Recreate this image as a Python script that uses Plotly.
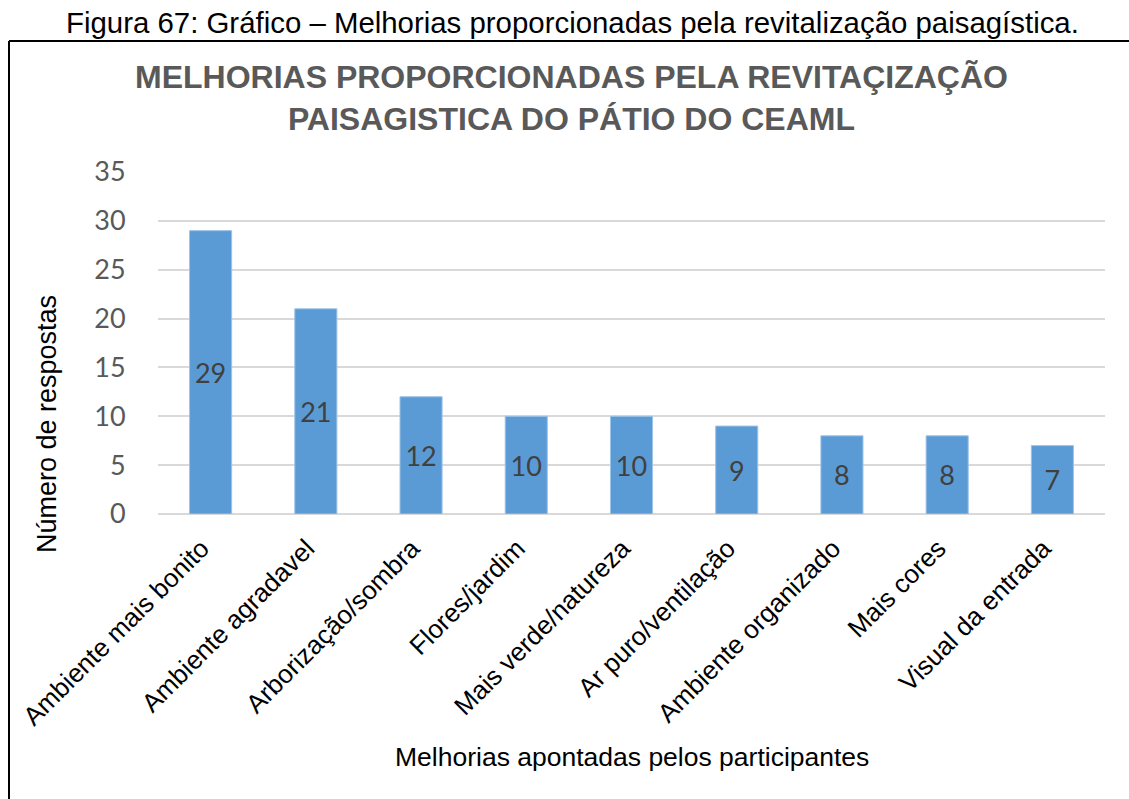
import plotly.graph_objects as go

categories = [
    "Ambiente mais bonito", "Ambiente agradavel", "Arborização/sombra",
    "Flores/jardim", "Mais verde/natureza", "Ar puro/ventilação",
    "Ambiente organizado", "Mais cores", "Visual da entrada",
]
respostas = [29, 21, 12, 10, 10, 9, 8, 8, 7]
y_ticks = [0, 5, 10, 15, 20, 25, 30, 35]

caption = "Figura 67: Gráfico – Melhorias proporcionadas pela revitalização paisagística."
chart_title = "MELHORIAS PROPORCIONADAS PELA REVITAÇIZAÇÃO<br>PAISAGISTICA DO PÁTIO DO CEAML"
x_title = "Melhorias apontadas pelos participantes"
y_title = "Número de respostas"

W, H = 1129, 799
L, R, T, B = 158, 24, 172, 285
pw, ph = W - L - R, H - T - B


def px_x(p):
    return (p - L) / pw


def px_y(p):
    return (H - B - p) / ph


fig = go.Figure(go.Bar(
    x=categories, y=respostas,
    marker=dict(color="#5b9bd5", line=dict(color="#9dc3e6", width=1)),
    text=[str(v) for v in respostas],
    textposition="inside", insidetextanchor="middle",
    textfont=dict(family="Lato", size=27, color="#404040"),
    textangle=0,
    width=0.4,
))

fig.update_layout(
    width=W, height=H,
    margin=dict(l=L, r=R, t=T, b=B, pad=0),
    paper_bgcolor="white", plot_bgcolor="white",
    showlegend=False,
    uniformtext=dict(mode=False),
    xaxis=dict(
        tickangle=-45, tickfont=dict(family="Arial", size=26, color="black"),
        showgrid=False, showline=False, ticks="", ticklen=0,
        ticklabelstandoff=13, ticklabelshift=-9,
    ),
    yaxis=dict(
        range=[0, 35], tickvals=y_ticks,
        tickfont=dict(family="Lato", size=27, color="#595959"),
        showgrid=True, gridcolor="#d9d9d9", gridwidth=2,
        zeroline=True, zerolinecolor="#d9d9d9", zerolinewidth=2,
        showline=False, ticks="outside", ticklen=26, tickcolor="rgba(0,0,0,0)",
    ),
)

fig.add_annotation(
    text=caption, xref="paper", yref="paper", x=px_x(572), y=px_y(22),
    xanchor="center", yanchor="middle", showarrow=False,
    font=dict(family="Arial", size=29.4, color="black"),
)
fig.add_annotation(
    text="<b>" + chart_title + "</b>", xref="paper", yref="paper",
    x=px_x(571), y=px_y(98), xanchor="center", yanchor="middle",
    showarrow=False, font=dict(family="Arial", size=32, color="#595959"),
)
fig.add_annotation(
    text=x_title, xref="paper", yref="paper", x=px_x(632), y=px_y(757),
    xanchor="center", yanchor="middle", showarrow=False,
    font=dict(family="Arial", size=26.5, color="black"),
)
fig.add_annotation(
    text=y_title, xref="paper", yref="paper", x=px_x(47), y=px_y(424),
    xanchor="center", yanchor="middle", showarrow=False, textangle=-90,
    font=dict(family="Arial", size=27, color="black"),
)

# frame around the chart: top and left edges
fig.add_shape(type="line", xref="paper", yref="paper",
              x0=px_x(9), x1=px_x(W + 5), y0=px_y(41), y1=px_y(41),
              line=dict(color="black", width=2))
fig.add_shape(type="line", xref="paper", yref="paper",
              x0=px_x(9), x1=px_x(9), y0=px_y(41), y1=px_y(H + 5),
              line=dict(color="black", width=2))

fig.write_html("out.html")
